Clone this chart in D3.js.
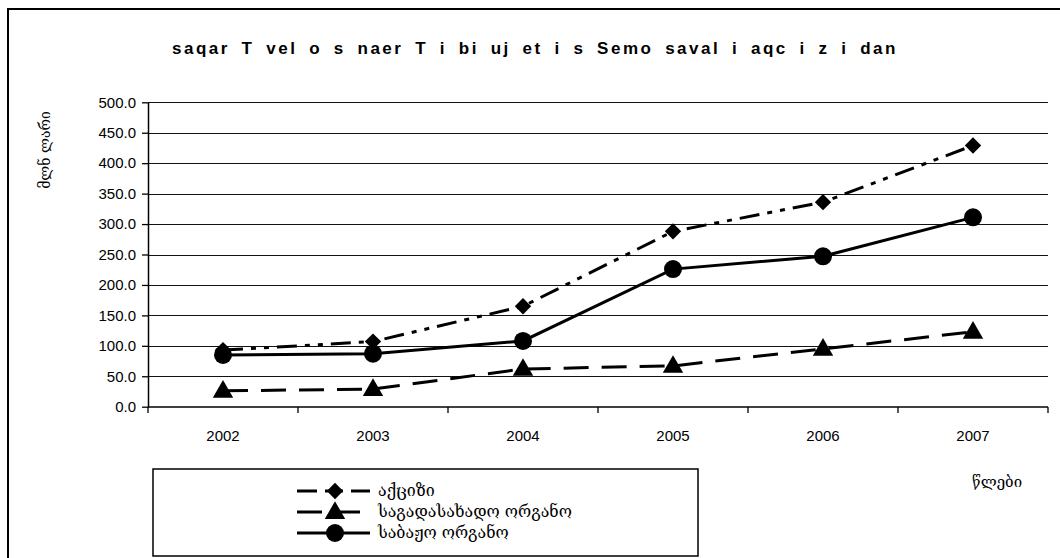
<!DOCTYPE html>
<html>
<head>
<meta charset="utf-8">
<script src="https://d3js.org/d3.v7.min.js"></script>
<style>
  body { margin: 0; background: white; }
</style>
</head>
<body>
<div id="chart"></div>
<script>
// data
var years = ["2002", "2003", "2004", "2005", "2006", "2007"];
var aqcizi = [93, 107, 165, 288, 336, 429];
var sagadasaxado = [26, 29, 62, 67, 95, 123];
var sabajo = [85, 87, 108, 226, 247, 311];
var seriesNames = ["აქციზი", "საგადასახადო ორგანო", "საბაჟო ორგანო"];
var yTicks = [0, 50, 100, 150, 200, 250, 300, 350, 400, 450, 500];

var width = 1060, height = 558;
var geo = "'DejaVu Serif', 'DejaVu Sans', serif";
var sans = "'Liberation Sans', Arial, sans-serif";

var svg = d3.select("#chart").append("svg")
    .attr("width", width).attr("height", height);

// outer frame (runs off the right and bottom edges)
svg.append("rect").attr("x", 8).attr("y", 9).attr("width", 1200).attr("height", 700)
    .attr("fill", "white").attr("stroke", "black").attr("stroke-width", 2);

var x = d3.scaleBand().domain(years).range([148, 1048]);
var y = d3.scaleLinear().domain([0, 500]).range([406.7, 102.3]);

// title: spaced letters, wide word gaps, stretched to fit 172..907
var title = svg.append("text")
    .attr("x", 172).attr("y", 54)
    .style("white-space", "pre")
    .style("letter-spacing", "2.5px")
    .attr("font-family", sans)
    .attr("font-size", 17).attr("font-weight", "bold")
    .text("saqar T vel o s naer T i bi uj et i s Semo saval i aqc i z i dan");
var spaces = 22;
var w0 = title.node().getComputedTextLength();
title.style("word-spacing", Math.max(0, (735 - w0) / spaces) + "px");

// gridlines
svg.append("g").selectAll("line").data(yTicks.slice(1)).enter().append("line")
    .attr("x1", 148).attr("x2", 1048)
    .attr("y1", function(d) { return Math.round(y(d)) + 0.5; })
    .attr("y2", function(d) { return Math.round(y(d)) + 0.5; })
    .attr("stroke", "#111").attr("stroke-width", 1.2);

// y axis
var yAxis = svg.append("g").attr("transform", "translate(148,0)")
    .call(d3.axisLeft(y).tickValues(yTicks).tickFormat(d3.format(".1f")).tickSize(6).tickSizeOuter(0));
yAxis.select(".domain").attr("stroke", "black").attr("stroke-width", 1.5);
yAxis.selectAll(".tick line").attr("stroke", "black").attr("stroke-width", 1.3);
yAxis.selectAll("text").attr("font-family", sans)
    .attr("font-size", 15).attr("fill", "black").attr("x", -12);

// x axis: ticks on band boundaries, labels at centres
var xAxis = svg.append("g").attr("transform", "translate(0,407)");
xAxis.append("line").attr("x1", 148).attr("x2", 1048).attr("y1", 0).attr("y2", 0)
    .attr("stroke", "black").attr("stroke-width", 1.5);
xAxis.selectAll(".xt").data(years.concat(["end"])).enter().append("line")
    .attr("x1", function(d, i) { return 148 + i * x.bandwidth(); })
    .attr("x2", function(d, i) { return 148 + i * x.bandwidth(); })
    .attr("y1", 0).attr("y2", 6).attr("stroke", "black").attr("stroke-width", 1.3);
xAxis.selectAll(".xl").data(years).enter().append("text")
    .attr("x", function(d) { return x(d) + x.bandwidth() / 2; })
    .attr("y", 34).attr("text-anchor", "middle")
    .attr("font-family", sans).attr("font-size", 15)
    .text(function(d) { return d; });

// axis titles
svg.append("text")
    .attr("transform", "translate(50,150) rotate(-90)")
    .attr("text-anchor", "middle").attr("font-family", geo).attr("font-size", 14)
    .text("მლნ ლარი");
svg.append("text")
    .attr("x", 997).attr("y", 487).attr("text-anchor", "middle")
    .attr("font-family", geo).attr("font-size", 15)
    .text("წლები");

// series
var dashes = ["20,8,5,8,5,8", "25,13", null];
var allSeries = [aqcizi, sagadasaxado, sabajo];
var line = d3.line()
    .x(function(d, i) { return x(years[i]) + x.bandwidth() / 2; })
    .y(function(d) { return y(d); });

function marker(g, kind, cx, cy) {
    if (kind == 0) {
        g.append("path").attr("d", d3.symbol().type(d3.symbolDiamond2).size(170)())
            .attr("transform", "translate(" + cx + "," + cy + ")").attr("fill", "black");
    } else if (kind == 1) {
        g.append("path").attr("d", d3.symbol().type(d3.symbolTriangle).size(180)())
            .attr("transform", "translate(" + cx + "," + (cy + 1) + ")").attr("fill", "black");
    } else {
        g.append("circle").attr("cx", cx).attr("cy", cy).attr("r", 9).attr("fill", "black");
    }
}

allSeries.forEach(function(vals, k) {
    svg.append("path").datum(vals).attr("d", line)
        .attr("fill", "none").attr("stroke", "black").attr("stroke-width", 3)
        .attr("stroke-dasharray", dashes[k]);
});
allSeries.forEach(function(vals, k) {
    var g = svg.append("g");
    vals.forEach(function(v, i) {
        marker(g, k, x(years[i]) + x.bandwidth() / 2, y(v));
    });
});

// legend
var lg = svg.append("g");
lg.append("rect").attr("x", 153).attr("y", 469).attr("width", 545).attr("height", 87)
    .attr("fill", "white").attr("stroke", "black").attr("stroke-width", 1.5);
var rows = [491, 512, 533];
seriesNames.forEach(function(name, k) {
    lg.append("line").attr("x1", 297).attr("x2", 370).attr("y1", rows[k]).attr("y2", rows[k])
        .attr("stroke", "black").attr("stroke-width", 3).attr("stroke-dasharray", dashes[k]);
    marker(lg, k, 335, rows[k]);
    lg.append("text").attr("x", 378).attr("y", rows[k] + 5)
        .attr("font-family", geo).attr("font-size", 16).text(name);
});
</script>
</body>
</html>
